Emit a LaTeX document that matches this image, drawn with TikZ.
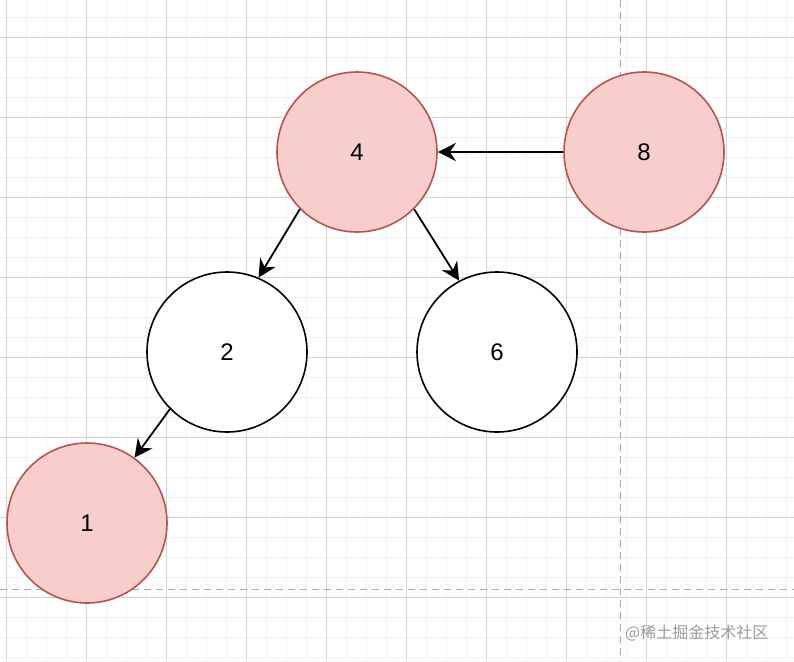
\documentclass[tikz,border=0pt]{standalone}
\usepackage{fontspec}
\setmainfont{Liberation Sans}
\newfontfamily\cjkfont{Noto Sans CJK SC}
\usetikzlibrary{arrows.meta}
\definecolor{redfill}{HTML}{F8CECC}
\definecolor{redline}{HTML}{B85450}
\definecolor{gridminor}{HTML}{F3F3F3}
\definecolor{gridmajor}{HTML}{D4D4D4}
\definecolor{dashgrey}{HTML}{AAAAAA}
\definecolor{wmgrey}{HTML}{9C9C9C}
\tikzset{
  circnode/.style={circle, minimum size=160pt, inner sep=0pt, line width=1.6pt,
    font=\fontsize{24}{28}\selectfont},
  rednode/.style={circnode, draw=redline, fill=redfill},
  whitenode/.style={circnode, draw=black, fill=white},
  edge/.style={line width=1.8pt, -{Stealth[length=18pt,width=18pt,inset=6pt]}},
  minorgrid/.style={draw=gridminor, line width=0.8pt},
  majorgrid/.style={draw=gridmajor, line width=0.9pt},
  guide/.style={draw=dashgrey, line width=1.2pt, dash pattern=on 7pt off 5pt}
}
\begin{document}
\begin{tikzpicture}[x=1pt,y=-1pt]
\useasboundingbox (0,0) rectangle (794,661);
\fill[white] (0,0) rectangle (794,661);
% minor grid
\foreach \x in {6.7,26.7,...,794} \draw[minorgrid] (\x,0) -- (\x,661);
\foreach \y in {-2.7,17.3,...,661} \draw[minorgrid] (0,\y) -- (794,\y);
% major grid
\foreach \x in {6.7,86.7,...,794} \draw[majorgrid] (\x,0) -- (\x,661);
\foreach \y in {37.3,117.3,...,661} \draw[majorgrid] (0,\y) -- (794,\y);
% guides
\draw[guide] (620.7,0) -- (620.7,661);
\draw[guide] (0,589.3) -- (794,589.3);
% nodes
\node[rednode] (n4) at (357,152) {4};
\node[rednode] (n8) at (644,152) {8};
\node[whitenode] (n2) at (227,352) {2};
\node[whitenode] (n6) at (497,352) {6};
\node[rednode] (n1) at (87,523) {1};
% edges
\draw[edge] (n8.west) -- (n4.east);
\draw[edge] (n4.225) -- (n2.67);
\draw[edge] (n4.315) -- (n6.118);
\draw[edge] (n2.225) -- (n1.54);
% watermark
\node[text=wmgrey, font=\cjkfont\fontsize{16}{18}\selectfont, anchor=west, inner sep=0pt] (wm) at (625,633) {@稀土掘金技术社区};
\end{tikzpicture}
\end{document}
